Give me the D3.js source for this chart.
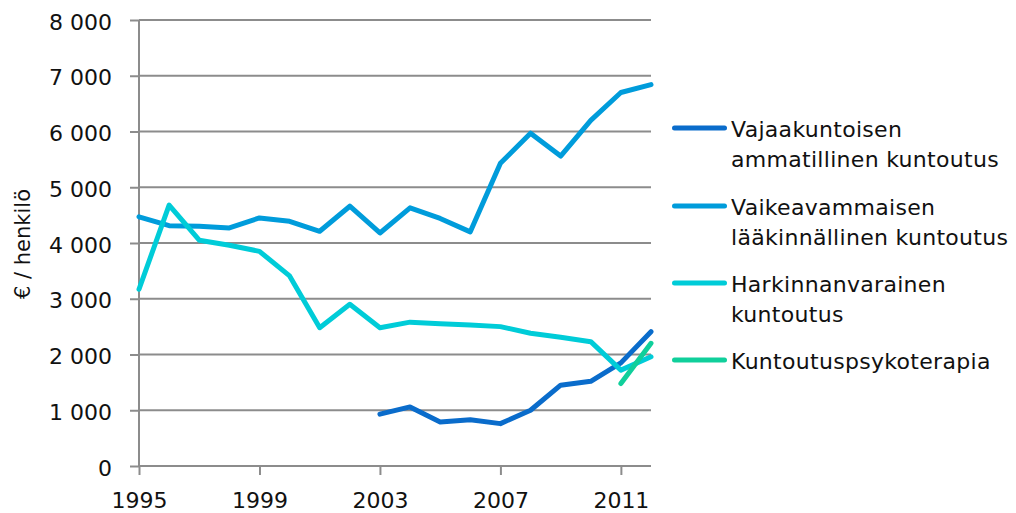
<!DOCTYPE html>
<meta charset="utf-8">
<style>
  body { margin: 0; background: #fff; }
  svg { display: block; font-family: "DejaVu Sans", sans-serif; }
  .tick text { fill: #111; }
</style>
<body>
<div id="chart"></div>
<script src="https://d3js.org/d3.v7.min.js"></script>
<script>
  // years on the x axis
  var years = [1995, 1996, 1997, 1998, 1999, 2000, 2001, 2002, 2003, 2004,
               2005, 2006, 2007, 2008, 2009, 2010, 2011, 2012];
  var xTicks = [1995, 1999, 2003, 2007, 2011];
  var yTicks = [0, 1000, 2000, 3000, 4000, 5000, 6000, 7000, 8000];

  // series values (€ / henkilö), null = no data
  var vajaakuntoisen = [null, null, null, null, null, null, null, null,
    930, 1060, 790, 830, 760, 1000, 1450, 1520, 1850, 2410];
  var vaikeavammaisen = [4470, 4310, 4300, 4270, 4450, 4390, 4210, 4660,
    4180, 4630, 4440, 4200, 5430, 5970, 5560, 6200, 6700, 6840];
  var harkinnanvarainen = [3170, 4680, 4050, 3960, 3850, 3410, 2480, 2900,
    2480, 2580, 2550, 2530, 2500, 2380, 2310, 2230, 1720, 1960];
  var psykoterapia = [null, null, null, null, null, null, null, null,
    null, null, null, null, null, null, null, null, 1480, 2200];

  var seriesNames = [
    ["Vajaakuntoisen", "ammatillinen kuntoutus"],
    ["Vaikeavammaisen", "lääkinnällinen kuntoutus"],
    ["Harkinnanvarainen", "kuntoutus"],
    ["Kuntoutuspsykoterapia"]
  ];
  var seriesValues = [vajaakuntoisen, vaikeavammaisen, harkinnanvarainen, psykoterapia];
  var colors = ["#0a6ccb", "#009cdb", "#00ccd8", "#10cf9b"];

  var W = 1016, H = 513;
  var svg = d3.select("#chart").append("svg")
    .attr("width", W).attr("height", H);

  var x = d3.scaleLinear().domain([1995, 2012]).range([139, 651]);
  var y = d3.scaleLinear().domain([0, 8000]).range([466, 20]);

  var fmt = function (d) { return d3.format(",")(d).replace(",", " "); };

  // horizontal gridlines
  svg.append("g")
    .selectAll("line")
    .data(yTicks.filter(function (d) { return d > 0; }))
    .enter().append("line")
    .attr("x1", x(1995)).attr("x2", x(2012))
    .attr("y1", function (d) { return y(d); })
    .attr("y2", function (d) { return y(d); })
    .attr("stroke", "#8c8c8c").attr("stroke-width", 2);

  // y axis
  var yAxis = svg.append("g")
    .attr("transform", "translate(" + x(1995) + ",0)")
    .call(d3.axisLeft(y).tickValues(yTicks).tickFormat(fmt).tickSize(9).tickPadding(18));
  yAxis.selectAll("line, path").attr("stroke", "#8c8c8c").attr("stroke-width", 2);
  yAxis.select(".domain").attr("d", "M0," + y(0) + "V" + y(8000));
  yAxis.selectAll("text").attr("font-size", 22).attr("dy", "0.41em")
    .attr("font-family", "DejaVu Sans, sans-serif");

  // x axis
  var xAxis = svg.append("g")
    .attr("transform", "translate(0," + y(0) + ")")
    .call(d3.axisBottom(x).tickValues(xTicks).tickFormat(d3.format("d")).tickSize(9).tickPadding(17));
  xAxis.selectAll("line, path").attr("stroke", "#8c8c8c").attr("stroke-width", 2);
  xAxis.select(".domain").attr("d", "M" + x(1995) + ",0H" + x(2012));
  xAxis.selectAll("text").attr("font-size", 22)
    .attr("font-family", "DejaVu Sans, sans-serif");

  // y axis title
  svg.append("text")
    .attr("transform", "translate(30,244) rotate(-90)")
    .attr("text-anchor", "middle")
    .attr("font-size", 21)
    .attr("fill", "#111")
    .text("€ / henkilö");

  // lines
  var line = d3.line()
    .defined(function (d) { return d != null; })
    .x(function (d, i) { return x(years[i]); })
    .y(function (d) { return y(d); });

  seriesValues.forEach(function (vals, k) {
    svg.append("path")
      .datum(vals)
      .attr("fill", "none")
      .attr("stroke", colors[k])
      .attr("stroke-width", 5)
      .attr("stroke-linejoin", "round")
      .attr("stroke-linecap", "round")
      .attr("d", line);
  });

  // legend
  var legendY = [128, 206, 283, 360];
  var legend = svg.append("g");
  seriesNames.forEach(function (lines, k) {
    var g = legend.append("g").attr("transform", "translate(0," + legendY[k] + ")");
    g.append("line")
      .attr("x1", 674.5).attr("x2", 724.5)
      .attr("stroke", colors[k]).attr("stroke-width", 5)
      .attr("stroke-linecap", "round");
    lines.forEach(function (t, j) {
      g.append("text")
        .attr("x", 731).attr("y", 8.5 + j * 30)
        .attr("font-size", 22)
        .attr("letter-spacing", 0.3)
        .attr("fill", "#111")
        .text(t);
    });
  });
</script>
</body>
